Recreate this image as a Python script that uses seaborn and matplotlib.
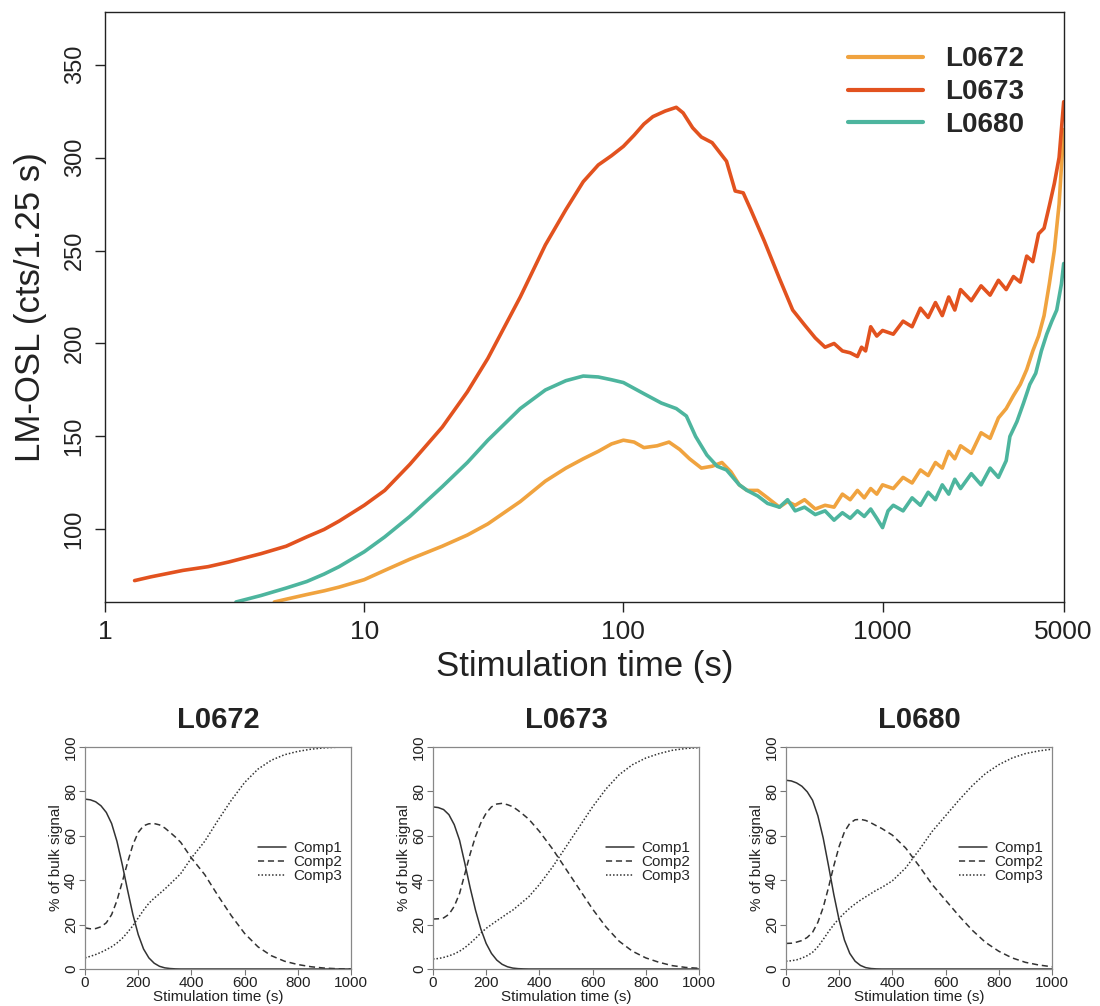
"""LM-OSL curves (log time) with component contributions per sample"""
import seaborn as sns
import matplotlib.pyplot as plt
import pandas as pd

sns.set_theme(style='ticks')
plt.rcParams['font.family'] = ['Liberation Sans', 'DejaVu Sans']

ORANGE, RED, TEAL = '#F0A33F', '#E2521F', '#4DB59E'
INK = '#222222'

# ---- main LM-OSL curves ----
t_0673 = [1.3, 1.5, 2, 2.5, 3, 4, 5, 6, 7, 8, 10, 12, 15, 20, 25, 30, 40, 50, 60, 70,
          80, 90, 100, 110, 120, 130, 145, 160, 170, 185, 200, 220, 250, 270, 290, 310,
          350, 400, 450, 500, 550, 600, 650, 700, 750, 800, 830, 860, 900, 950, 1000,
          1100, 1200, 1300, 1400, 1500, 1600, 1700, 1800, 1900, 2000, 2200, 2400, 2600,
          2800, 3000, 3200, 3400, 3600, 3800, 4000, 4200, 4400, 4600, 4800, 5000]
y_0673 = [72.5, 74.5, 78, 80, 82.5, 87, 91, 96, 100, 104.5, 113, 121, 135, 155, 174, 192,
          225, 253, 272, 287, 296, 301, 306, 312, 318, 322, 325, 327, 324, 316, 311, 308,
          298, 282, 281, 272, 255, 235, 218, 210, 203, 198, 200, 196, 195, 193, 198, 196,
          209, 204, 207, 205, 212, 209, 219, 214, 222, 215, 225, 218, 229, 223, 231, 226,
          234, 229, 236, 233, 247, 244, 259, 262, 274, 286, 300, 330]

t_0672 = [4.5, 5, 6, 7, 8, 10, 12, 15, 20, 25, 30, 40, 50, 60, 70, 80, 90, 100, 110, 120,
          135, 150, 165, 180, 200, 220, 240, 260, 280, 300, 330, 360, 400, 430, 460, 500,
          550, 600, 650, 700, 750, 800, 850, 900, 950, 1000, 1100, 1200, 1300, 1400, 1500,
          1600, 1700, 1800, 1900, 2000, 2200, 2400, 2600, 2800, 3000, 3200, 3400, 3600,
          3800, 4000, 4200, 4400, 4600, 4800, 5000]
y_0672 = [61, 62.5, 65, 67, 69, 73, 78, 84, 91, 97, 103, 115, 126, 133, 138, 142, 146, 148,
          147, 144, 145, 147, 143, 138, 133, 134, 136, 131, 124, 121, 121, 117, 112, 115,
          113, 116, 111, 113, 112, 119, 116, 121, 117, 122, 119, 124, 122, 128, 125, 132,
          129, 136, 133, 142, 138, 145, 141, 152, 149, 160, 165, 172, 178, 186, 196, 204,
          215, 232, 250, 275, 315]

t_0680 = [3.2, 4, 5, 6, 7, 8, 10, 12, 15, 20, 25, 30, 40, 50, 60, 70, 80, 90, 100, 120, 140,
          160, 175, 190, 210, 230, 250, 280, 300, 330, 360, 400, 430, 460, 500, 550, 600,
          650, 700, 750, 800, 850, 900, 950, 1000, 1050, 1100, 1200, 1300, 1400, 1500,
          1600, 1700, 1800, 1900, 2000, 2200, 2400, 2600, 2800, 3000, 3100, 3300, 3500,
          3700, 3900, 4100, 4300, 4500, 4700, 4900, 5000]
y_0680 = [61, 64.5, 68.5, 72, 76, 80, 88, 96, 107, 123, 136, 148, 165, 175, 180, 182.5, 182,
          180.5, 179, 173, 168, 165, 161, 150, 140, 134, 132, 124, 121, 118, 114, 112, 116,
          110, 112, 108, 110, 105, 109, 106, 110, 107, 111, 106, 101, 110, 113, 110, 117,
          113, 120, 116, 124, 119, 127, 122, 130, 124, 133, 128, 137, 150, 158, 168, 178,
          184, 196, 205, 212, 218, 232, 243]

# ---- component contributions (% of bulk signal) ----
t_comp = [0, 20, 40, 60, 80, 100, 120, 140, 160, 180, 200, 220, 240, 260, 280, 300, 320,
          340, 360, 400, 450, 500, 550, 600, 650, 700, 750, 800, 850, 900, 950, 1000]
comp_0672 = {
    'Comp1': [76.5, 76.2, 75.3, 73.5, 70.5, 65.5, 57.5, 47, 35.5, 24.5, 15.5, 9, 5, 2.6,
              1.2, 0.5, 0.2, 0.05, 0, 0, 0, 0, 0, 0, 0, 0, 0, 0, 0, 0, 0, 0],
    'Comp2': [18.5, 18.1, 18.2, 19, 20.8, 24.5, 30.8, 39.2, 48, 56, 61.5, 64.5, 65.4, 65.5,
              64.9, 63.5, 61.5, 59.4, 57, 50, 42.5, 33, 24, 16, 10, 6, 3.5, 2, 1, 0.4,
              0.1, 0],
    'Comp3': [5, 5.7, 6.5, 7.5, 8.7, 10, 11.7, 13.8, 16.5, 19.5, 23, 26.5, 29.6, 31.9, 33.9,
              36, 38.3, 40.6, 43, 50, 57.5, 67, 76, 84, 90, 94, 96.5, 98, 99, 99.6, 99.9,
              100],
}
comp_0673 = {
    'Comp1': [73, 72.7, 71.8, 69.5, 65, 58, 47.5, 36.5, 26.5, 18, 11.5, 7, 4, 2.1, 1, 0.4,
              0.15, 0.05, 0, 0, 0, 0, 0, 0, 0, 0, 0, 0, 0, 0, 0, 0],
    'Comp2': [22.5, 22.6, 23, 24.6, 28.2, 34, 42.9, 51.9, 59.7, 65.8, 70.2, 73, 74.3, 74.6,
              74, 73.1, 71.4, 69.5, 67.5, 62, 54, 45, 36, 27, 19, 12.5, 8, 5, 3, 1.5, 0.7,
              0.3],
    'Comp3': [4.5, 4.7, 5.2, 5.9, 6.8, 8, 9.6, 11.6, 13.8, 16.2, 18.3, 20, 21.7, 23.3, 25,
              26.5, 28.5, 30.5, 32.5, 38, 46, 55, 64, 73, 81, 87.5, 92, 95, 97, 98.5,
              99.3, 99.7],
}
comp_0680 = {
    'Comp1': [85, 84.7, 83.8, 82.3, 79.8, 76, 69, 59, 46.5, 33.5, 22, 13, 7, 3.5, 1.6, 0.6,
              0.2, 0.05, 0, 0, 0, 0, 0, 0, 0, 0, 0, 0, 0, 0, 0, 0],
    'Comp2': [11.5, 11.6, 12.1, 12.8, 14.2, 16.5, 21, 27.7, 36.7, 46.5, 55.2, 61.8, 65.6,
              67.2, 67.4, 66.9, 65.8, 64.5, 63.3, 60.3, 54.5, 46.5, 38, 31, 24, 17.5, 12, 8,
              5, 3, 1.8, 1],
    'Comp3': [3.5, 3.7, 4.1, 4.9, 6, 7.5, 10, 13.3, 16.8, 20, 22.8, 25.2, 27.4, 29.3, 31,
              32.5, 34, 35.5, 36.7, 39.7, 45.5, 53.5, 62, 69, 76, 82.5, 88, 92, 95, 97, 98.2,
              99],
}

samples = ['L0672', 'L0673', 'L0680']
main = pd.concat([
    pd.DataFrame({'t': t_0672, 'cts': y_0672, 'sample': 'L0672'}),
    pd.DataFrame({'t': t_0673, 'cts': y_0673, 'sample': 'L0673'}),
    pd.DataFrame({'t': t_0680, 'cts': y_0680, 'sample': 'L0680'}),
], ignore_index=True)

fig = plt.figure(figsize=(11, 10.06), dpi=100, facecolor='white')
ax = fig.add_axes([0.0955, 0.4016, 0.8715, 0.586])
sns.lineplot(data=main, x='t', y='cts', hue='sample', hue_order=samples,
             palette=[ORANGE, RED, TEAL], estimator=None, lw=2.6, ax=ax)
ax.set_xscale('log')
ax.set_xlim(1, 5000)
ax.set_ylim(61, 378)
ax.set_xticks([1, 10, 100, 1000, 5000])
ax.set_xticklabels(['1', '10', '100', '1000', '5000'])
ax.minorticks_off()
ax.set_yticks([100, 150, 200, 250, 300, 350])
ax.tick_params(axis='both', direction='out', length=7, width=1, color=INK,
               labelcolor=INK)
ax.tick_params(axis='x', labelsize=19, pad=6)
ax.tick_params(axis='y', labelsize=17, pad=7)
for lb in ax.get_yticklabels():
    lb.set_rotation(90)
    lb.set_va('center')
for sp in ax.spines.values():
    sp.set_visible(True)
    sp.set_color(INK)
    sp.set_linewidth(1)
ax.set_xlabel('Stimulation time (s)', fontsize=25, color=INK, labelpad=4)
ax.set_ylabel('LM-OSL (cts/1.25 s)', fontsize=25, color=INK, labelpad=12)
h, l = ax.get_legend_handles_labels()
leg = ax.legend(h, l, loc='upper right', bbox_to_anchor=(0.985, 0.985), frameon=False,
                handlelength=2.7, handletextpad=0.8, labelspacing=0.25,
                prop={'weight': 'bold', 'size': 20})
for line in leg.get_lines():
    line.set_linewidth(3)

# ---- bottom panels ----
lefts = [0.0773, 0.3936, 0.7145]
dashes = {'Comp1': '', 'Comp2': (4, 2.5), 'Comp3': (1, 1.3)}
for left, name, comps in zip(lefts, samples, [comp_0672, comp_0673, comp_0680]):
    sub = pd.concat([pd.DataFrame({'t': t_comp, 'pct': v, 'comp': k})
                     for k, v in comps.items()], ignore_index=True)
    bx = fig.add_axes([left, 0.0368, 0.2418, 0.2207])
    sns.lineplot(data=sub, x='t', y='pct', style='comp', dashes=dashes, color='#333333',
                 lw=1.1, estimator=None, ax=bx)
    bx.set_xlim(0, 1000)
    bx.set_ylim(0, 100)
    bx.set_xticks(range(0, 1001, 200))
    bx.set_yticks(range(0, 101, 20))
    bx.tick_params(direction='out', length=4, width=0.8, color='#777777',
                   labelsize=11, labelcolor=INK, pad=1)
    for lb in bx.get_yticklabels():
        lb.set_rotation(90)
        lb.set_va('center')
    for sp in bx.spines.values():
        sp.set_visible(True)
        sp.set_color('#888888')
        sp.set_linewidth(0.9)
    bx.set_xlabel('Stimulation time (s)', fontsize=11, color=INK, labelpad=0)
    bx.set_ylabel('% of bulk signal', fontsize=11, color=INK, labelpad=1)
    bx.set_title(name, fontsize=21, fontweight='bold', color=INK, pad=14)
    hh, ll = bx.get_legend_handles_labels()
    bx.legend(hh, ll, loc='center left', bbox_to_anchor=(0.6, 0.48), frameon=False,
              fontsize=11, handlelength=1.8, handletextpad=0.5, labelspacing=0.0)

plt.savefig('out.png', dpi=100, facecolor='white')
